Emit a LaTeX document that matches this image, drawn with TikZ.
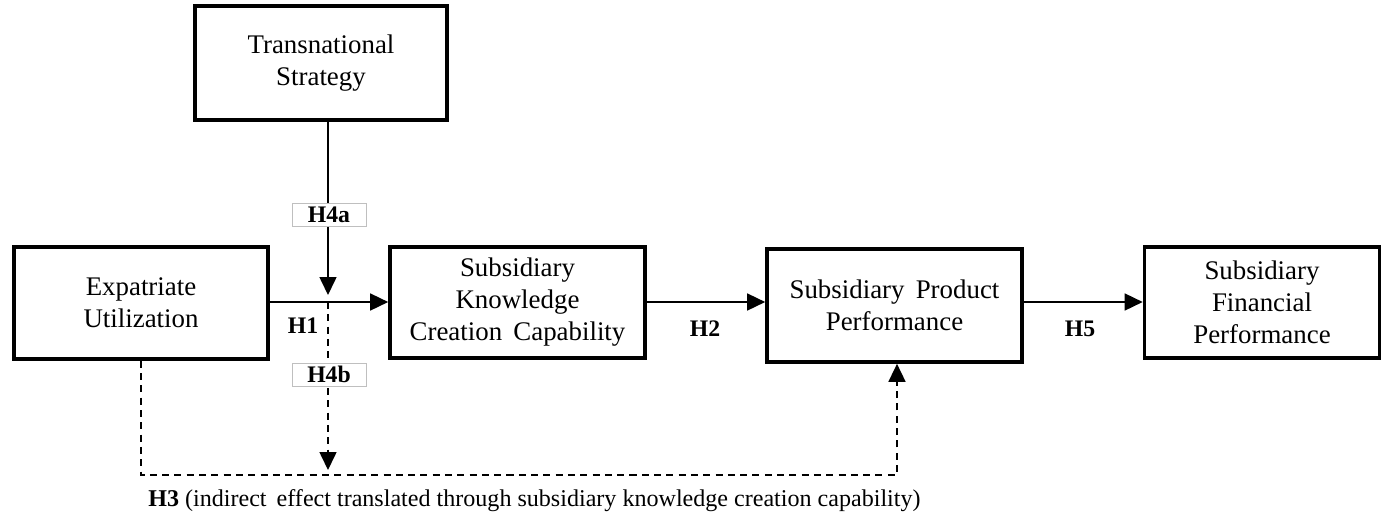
\documentclass[tikz,border=0pt]{standalone}
\usepackage{fontspec}
\setmainfont{Liberation Serif}
\usetikzlibrary{arrows.meta}
\newcommand{\boxcol}{black}
\newcommand{\tagcol}{black!25}

\tikzset{
    construct/.style={draw=\boxcol, line width=2.1pt, align=center, inner sep=2pt,
        font=\fontsize{15.3}{18.2}\selectfont},
    hyp/.style={font=\fontsize{13.5}{15}\selectfont\bfseries},
    hyptag/.style={hyp, draw=\tagcol, line width=0.5pt, fill=white,
        minimum width=1.48cm, minimum height=0.46cm, inner sep=0pt},
    path/.style={line width=0.9pt, -{Triangle[length=3.6mm, width=3.4mm]}},
    indirect/.style={path, dash pattern=on 4pt off 3pt}
}

\begin{document}
\begin{tikzpicture}[x=0.02cm, y=-0.02cm]

    \useasboundingbox (0, 0) rectangle (1382, 521);

    \node[construct, minimum width=5.04cm, minimum height=2.28cm] (trans) at (321, 63) {Transnational\\Strategy};
    \node[construct, minimum width=5.08cm, minimum height=2.24cm] (expat) at (141, 303) {Expatriate\\Utilization};
    \node[construct, minimum width=5.10cm, minimum height=2.22cm] (skcc) at (517.5, 302.5) {Subsidiary\\Knowledge\\Creation\, Capability};
    \node[construct, minimum width=5.10cm, minimum height=2.26cm] (spp) at (894.5, 305.5) {Subsidiary\, Product\\Performance};
    \node[construct, minimum width=4.70cm, minimum height=2.22cm] (sfp) at (1262, 302.5) {Subsidiary\\Financial\\Performance};

    \coordinate (mod) at (328, 302);
    \coordinate (modtip) at (328, 295);
    \coordinate (h4bend) at (328, 470);
    \coordinate (h3corner) at (897, 475);

    \draw[path] (expat.east |- mod) -- (skcc.west |- mod);
    \draw[path] (skcc.east |- mod) -- (spp.west |- mod);
    \draw[path] (spp.east |- mod) -- (sfp.west |- mod);

    \draw[path] (trans.south -| modtip) -- (modtip);
    \draw[indirect] (mod) -- (h4bend);
    \draw[indirect] (expat.south) |- (h3corner) -- (h3corner |- spp.south);

    \node[hyptag] (h4a) at (329, 214.5) {H4a};
    \node[hyptag] (h4b) at (329, 374.5) {H4b};
    \node[hyp] (h1) at (303, 326) {H1};
    \node[hyp] (h2) at (705, 329) {H2};
    \node[hyp] (h5) at (1080, 329) {H5};

    \node[anchor=west, inner sep=0pt, font=\fontsize{13.7}{15}\selectfont] (h3) at (148, 501)
        {\textbf{H3} (indirect\, effect translated through subsidiary knowledge creation capability)};

\end{tikzpicture}
\end{document}
